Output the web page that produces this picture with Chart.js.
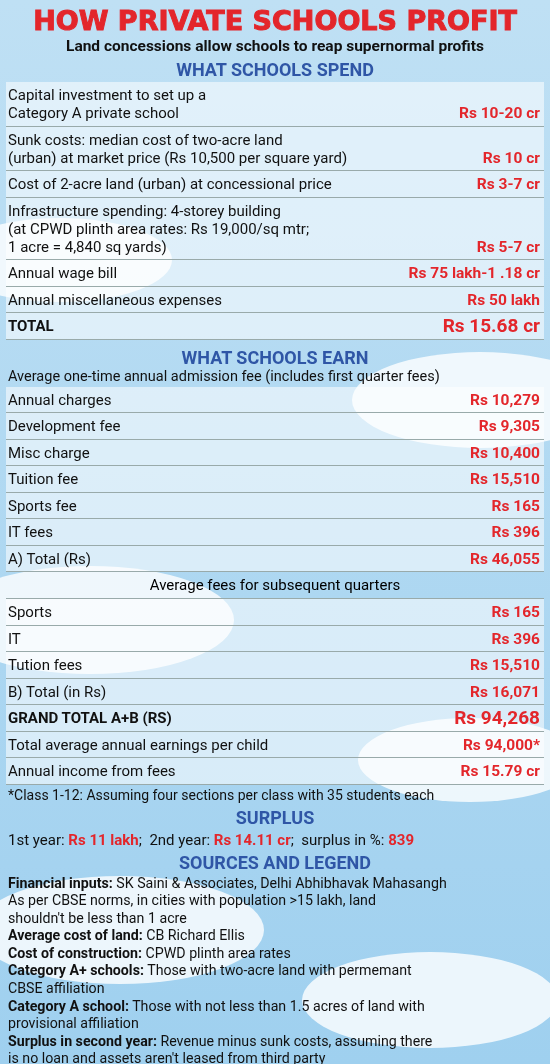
<!DOCTYPE html>
<html><head><meta charset="utf-8">
<script src="https://cdn.jsdelivr.net/npm/chart.js@4"></script>
<style>
html,body{margin:0;padding:0;width:550px;height:1064px;overflow:hidden;font-family:"Roboto","Liberation Sans",sans-serif;}
#bg{position:absolute;left:0;top:0;width:550px;height:1064px;}
#wrap{position:absolute;left:0;top:0;width:550px;}
.title{font-family:"DejaVu Sans";font-weight:900;color:#e3262b;font-size:27px;text-align:center;margin-top:6px;-webkit-text-stroke:1px #e3262b;line-height:30px}
.sub{font-weight:bold;font-size:15.5px;text-align:center;color:#111;line-height:20px}
.sec{font-weight:bold;font-size:18px;color:#2f56a6;text-align:center;line-height:24px;}
.row{display:flex;justify-content:space-between;align-items:flex-end;margin:0 6px;padding:4px 4px 3.5px 2px;border-bottom:1px solid #9aa;background:rgba(255,255,255,0.55);font-size:15px;color:#111;line-height:18px}
.row .v{color:#e3262b;font-weight:bold;white-space:nowrap;font-size:15.5px}
.bold{font-weight:bold}
.big .v{font-size:19px}
.note{font-size:14px;margin:2px 8px;color:#111;line-height:17px}
.ctr{text-align:center;font-size:15px;padding:4px 0;margin:0 6px;border-bottom:1px solid #9aa}
.src{font-size:14.2px;margin:0 8px;color:#111;line-height:17.6px}
.src b{font-weight:bold}
.red{color:#e3262b;font-weight:bold}
</style></head><body>
<canvas id="bg" width="550" height="1064"></canvas>
<div id="wrap"></div>
<script>
const spendLabels=["Capital investment to set up a<br>Category A private school","Sunk costs: median cost of two-acre land<br>(urban) at market price (Rs 10,500 per square yard)","Cost of 2-acre land (urban) at concessional price","Infrastructure spending: 4-storey building<br>(at CPWD plinth area rates: Rs 19,000/sq mtr;<br>1 acre = 4,840 sq yards)","Annual wage bill","Annual miscellaneous expenses","TOTAL"];
const spendValues=["Rs 10-20 cr","Rs 10 cr","Rs 3-7 cr","Rs 5-7 cr","Rs 75 lakh-1 .18 cr","Rs 50 lakh","Rs 15.68 cr"];
const earnLabels=["Annual charges","Development fee","Misc charge","Tuition fee","Sports fee","IT fees","A) Total (Rs)"];
const earnValues=["Rs 10,279","Rs 9,305","Rs 10,400","Rs 15,510","Rs 165","Rs 396","Rs 46,055"];
const quarterLabels=["Sports","IT","Tution fees","B) Total (in Rs)"];
const quarterValues=["Rs 165","Rs 396","Rs 15,510","Rs 16,071"];
const totalLabels=["GRAND TOTAL A+B (RS)","Total average annual earnings per child","Annual income from fees"];
const totalValues=["Rs 94,268","Rs 94,000*","Rs 15.79 cr"];
const surplus=["Rs 11 lakh","Rs 14.11 cr","839"];

new Chart(document.getElementById('bg'),{type:'bar',data:{labels:[],datasets:[]},
 options:{responsive:false,animation:false,plugins:{legend:{display:false},tooltip:{enabled:false}},scales:{x:{display:false},y:{display:false}}},
 plugins:[{id:'sky',beforeDraw(c){const x=c.ctx;const g=x.createLinearGradient(0,0,0,1064);g.addColorStop(0,'#bfe0f4');g.addColorStop(1,'#9fd0ef');x.fillStyle=g;x.fillRect(0,0,550,1064);
  x.fillStyle='rgba(255,255,255,0.8)';[[60,260,70],[480,400,80],[90,620,90],[470,760,70],[120,930,90],[430,1000,80]].forEach(([a,b,r])=>{x.beginPath();x.ellipse(a,b,r*1.6,r*0.6,0,0,7);x.fill();});}}]});

let h='<div class="title">HOW PRIVATE SCHOOLS PROFIT</div><div class="sub">Land concessions allow schools to reap supernormal profits</div>';
h+='<div class="sec" style="margin-top:2px">WHAT SCHOOLS SPEND</div>';
spendLabels.forEach((l,i)=>{const last=i===spendLabels.length-1;h+=`<div class="row${last?' bold big':''}"><span>${l}</span><span class="v">${spendValues[i]}</span></div>`;});
h+='<div class="sec" style="margin-top:6px">WHAT SCHOOLS EARN</div><div class="note" style="font-size:14.5px;margin-top:-2px">Average one-time annual admission fee (includes first quarter fees)</div>';
earnLabels.forEach((l,i)=>h+=`<div class="row"><span>${l}</span><span class="v">${earnValues[i]}</span></div>`);
h+='<div class="ctr">Average fees for subsequent quarters</div>';
quarterLabels.forEach((l,i)=>h+=`<div class="row"><span>${l}</span><span class="v">${quarterValues[i]}</span></div>`);
totalLabels.forEach((l,i)=>h+=`<div class="row${i===0?' bold big':''}"><span>${l}</span><span class="v">${totalValues[i]}</span></div>`);
h+='<div class="note">*Class 1-12: Assuming four sections per class with 35 students each</div>';
h+='<div class="sec">SURPLUS</div>';
h+=`<div class="note" style="font-size:15px">1st year: <span class="red">${surplus[0]}</span>;&nbsp; 2nd year: <span class="red">${surplus[1]}</span>;&nbsp; surplus in %: <span class="red">${surplus[2]}</span></div>`;
h+='<div class="sec">SOURCES AND LEGEND</div>';
h+='<div class="src"><b>Financial inputs:</b> SK Saini &amp; Associates, Delhi Abhibhavak Mahasangh<br>As per CBSE norms, in cities with population &gt;15 lakh, land<br>shouldn\'t be less than 1 acre<br><b>Average cost of land:</b> CB Richard Ellis<br><b>Cost of construction:</b> CPWD plinth area rates<br><b>Category A+ schools:</b> Those with two-acre land with permemant<br>CBSE affiliation<br><b>Category A school:</b> Those with not less than 1.5 acres of land with<br>provisional affiliation<br><b>Surplus in second year:</b> Revenue minus sunk costs, assuming there<br>is no loan and assets aren\'t leased from third party</div>';
document.getElementById('wrap').innerHTML=h;
</script></body></html>
